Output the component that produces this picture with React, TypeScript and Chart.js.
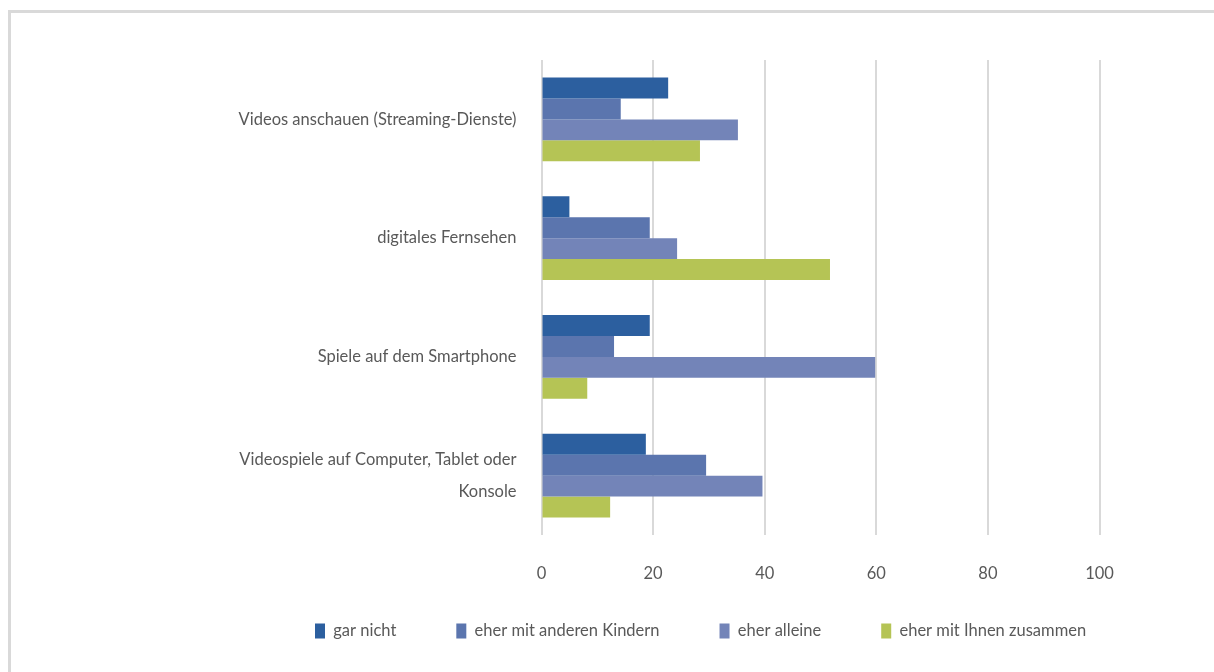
import React, { useEffect, useRef } from "react";
import { Chart, registerables } from "chart.js";

Chart.register(...registerables);

const categories: (string | string[])[] = [
  "Videos anschauen (Streaming-Dienste)",
  "digitales Fernsehen",
  "Spiele auf dem Smartphone",
  ["Videospiele auf Computer, Tablet oder", "Konsole"],
];
const seriesNames = ["gar nicht", "eher mit anderen Kindern", "eher alleine", "eher mit Ihnen zusammen"];
const garNicht = [22.7, 5.0, 19.4, 18.7];
const mitKindern = [14.2, 19.4, 13.0, 29.5];
const alleine = [35.2, 24.3, 59.8, 39.6];
const zusammen = [28.4, 51.7, 8.2, 12.3];
const xTicks = [0, 20, 40, 60, 80, 100];

const colors = ["#2C5F9F", "#5B75AE", "#7384B8", "#B5C455"];
const FONT = "Lato, 'Open Sans', sans-serif";
const FS = 16.5;

const legendPlacer = {
  id: "legendPlacer",
  afterLayout(chart: any) {
    const lg = chart.legend;
    if (!lg) return;
    const w = lg.right - lg.left;
    lg.left = 255;
    lg.right = 255 + w;
    const h = lg.bottom - lg.top;
    lg.top = 631 - FS / 2 - 60;
    lg.bottom = lg.top + h;
  },
};

export default function App() {
  const ref = useRef<HTMLCanvasElement | null>(null);
  useEffect(() => {
    if (!ref.current) return;
    const values = [garNicht, mitKindern, alleine, zusammen];
    const chart = new Chart(ref.current, {
      type: "bar",
      data: {
        labels: categories,
        datasets: seriesNames.map((name, i) => ({
          label: name,
          data: values[i],
          backgroundColor: colors[i],
          borderWidth: 0,
          categoryPercentage: 0.705,
          barPercentage: 1.0,
        })),
      },
      options: {
        indexAxis: "y",
        animation: false,
        responsive: false,
        maintainAspectRatio: false,
        layout: { padding: { left: 0, top: 60, right: 114.5, bottom: 0 } },
        plugins: {
          tooltip: { enabled: false },
          legend: {
            position: "bottom",
            align: "start",
            labels: {
              boxWidth: 10,
              boxHeight: 15,
              padding: 60,
              color: "#595959",
              font: { family: FONT, size: FS },
            },
          },
        },
        scales: {
          x: {
            min: 0,
            max: 100,
            afterBuildTicks: (scale: any) => {
              scale.ticks = xTicks.map((v) => ({ value: v }));
            },
            afterFit: (scale: any) => {
              scale.height = 50.5;
            },
            grid: { color: "#D9D9D9", lineWidth: 2, drawTicks: false },
            border: { display: false },
            ticks: { color: "#595959", padding: 28.5, font: { family: FONT, size: FS } },
          },
          y: {
            afterFit: (scale: any) => {
              scale.width = 541.5;
            },
            grid: { display: false, drawTicks: false },
            border: { display: false },
            ticks: {
              color: "#595959",
              padding: 25,
              font: { family: FONT, size: FS, lineHeight: 1.94 },
            },
          },
        },
      },
      plugins: [legendPlacer],
    } as any);
    return () => chart.destroy();
  }, []);
  return (
    <>
      <div
        style={{
          position: "absolute",
          left: 8,
          top: 10,
          width: 1206,
          height: 662,
          borderTop: "3px solid #D9D9D9",
          borderLeft: "3px solid #D9D9D9",
          boxSizing: "border-box",
        }}
      />
      <canvas
        ref={ref}
        width={1214}
        height={672}
        style={{ position: "absolute", left: 0, top: 0, width: 1214, height: 672 }}
      />
    </>
  );
}
